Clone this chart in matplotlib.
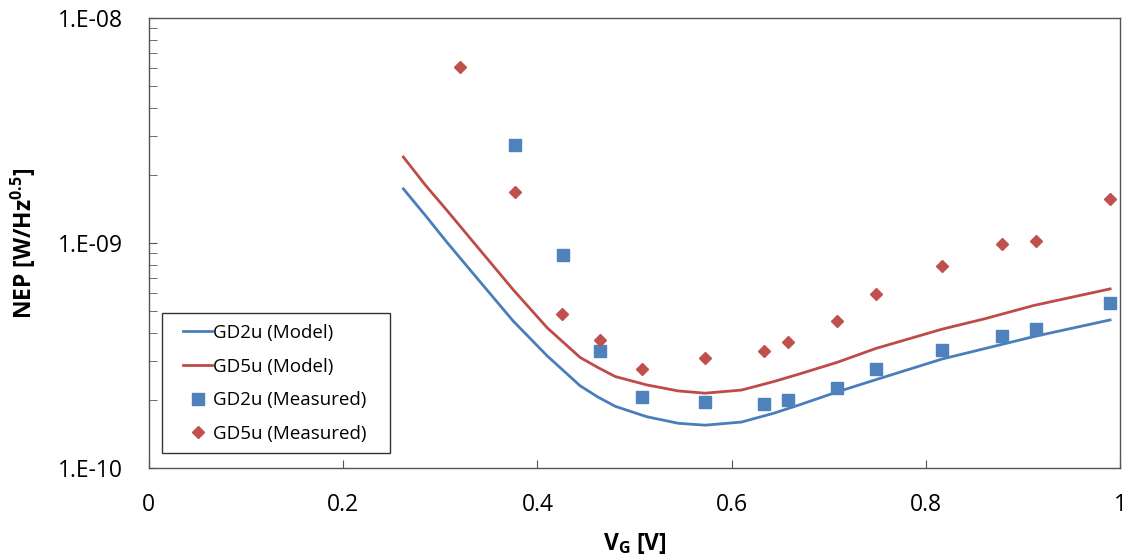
import math

import matplotlib
matplotlib.use("Agg")
import matplotlib.pyplot as plt
from matplotlib.patches import Rectangle
from matplotlib.ticker import FixedLocator, LogLocator, FuncFormatter, NullFormatter

plt.rcParams["font.family"] = ["Open Sans", "DejaVu Sans"]
plt.rcParams["mathtext.fontset"] = "custom"
plt.rcParams["mathtext.rm"] = "Open Sans"
plt.rcParams["mathtext.bf"] = "Open Sans:bold"

# model curves
vg_model = [0.262, 0.285, 0.3066, 0.34, 0.375, 0.41, 0.4439, 0.462, 0.48,
            0.5125, 0.545, 0.5725, 0.61, 0.643, 0.670, 0.7087, 0.7485, 0.8165,
            0.86, 0.9112, 0.9894]
gd2_model = [1.74e-9, 1.32e-9, 1.01e-9, 6.8e-10, 4.5e-10, 3.15e-10, 2.32e-10,
             2.07e-10, 1.88e-10, 1.69e-10, 1.58e-10, 1.55e-10, 1.60e-10,
             1.75e-10, 1.91e-10, 2.18e-10, 2.47e-10, 3.05e-10, 3.39e-10,
             3.84e-10, 4.55e-10]
gd5_model = [2.41e-9, 1.80e-9, 1.40e-9, 9.4e-10, 6.2e-10, 4.2e-10, 3.10e-10,
             2.80e-10, 2.55e-10, 2.34e-10, 2.20e-10, 2.15e-10, 2.22e-10,
             2.42e-10, 2.62e-10, 2.95e-10, 3.40e-10, 4.14e-10, 4.60e-10,
             5.28e-10, 6.25e-10]

# measured points
vg_gd2 = [0.377, 0.426, 0.4645, 0.5077, 0.5725, 0.6336, 0.6583, 0.7087,
          0.7489, 0.8168, 0.8779, 0.9132, 0.9894]
gd2_meas = [2.73e-9, 8.85e-10, 3.32e-10, 2.07e-10, 1.97e-10, 1.92e-10, 2.00e-10,
            2.26e-10, 2.75e-10, 3.34e-10, 3.86e-10, 4.16e-10, 5.43e-10]
vg_gd5 = [0.320, 0.3766, 0.425, 0.4645, 0.5077, 0.5725, 0.6336, 0.6583,
          0.7087, 0.7489, 0.8168, 0.8779, 0.9132, 0.9894]
gd5_meas = [6.04e-9, 1.69e-9, 4.83e-10, 3.71e-10, 2.75e-10, 3.09e-10, 3.32e-10,
            3.64e-10, 4.50e-10, 5.91e-10, 7.91e-10, 9.93e-10, 1.02e-9, 1.57e-9]

x_ticks = [0, 0.2, 0.4, 0.6, 0.8, 1.0]
x_tick_labels = ["0", "0.2", "0.4", "0.6", "0.8", "1"]

BLUE = "#4A7EBB"
RED = "#BE4B48"


def excel_exp(v, pos):
    return "1.E-%02d" % int(round(-math.log10(v)))


fig = plt.figure(figsize=(11.31, 5.6), dpi=100)
ax = fig.add_axes([0.1316, 0.1643, 0.8590, 0.8036])

ax.plot(vg_model, gd2_model, color=BLUE, linewidth=2.0, label="GD2u (Model)")
ax.plot(vg_model, gd5_model, color=RED, linewidth=2.0, label="GD5u (Model)")
ax.plot(vg_gd2, gd2_meas, linestyle="none", marker="s", markersize=8,
        color="#4F81BD", label="GD2u (Measured)")
ax.plot(vg_gd5, gd5_meas, linestyle="none", marker="D", markersize=6,
        color="#C0504D", label="GD5u (Measured)")

ax.set_yscale("log")
ax.set_xlim(0, 1)
ax.set_ylim(1e-10, 1e-8)
ax.xaxis.set_major_locator(FixedLocator(x_ticks))
ax.set_xticklabels(x_tick_labels)
ax.yaxis.set_major_locator(FixedLocator([1e-10, 1e-9, 1e-8]))
ax.yaxis.set_minor_locator(LogLocator(base=10, subs=range(2, 10), numticks=20))
ax.yaxis.set_minor_formatter(NullFormatter())
ax.yaxis.set_major_formatter(FuncFormatter(excel_exp))

ax.tick_params(axis="both", which="major", direction="in", length=6,
               labelsize=16.5, color="#555555")
ax.tick_params(axis="x", which="major", pad=18)
ax.tick_params(axis="y", which="major", pad=19)
ax.tick_params(axis="y", which="minor", direction="in", length=6, color="#555555")
for s in ax.spines.values():
    s.set_color("#555555")
    s.set_linewidth(1.0)

ax.set_xlabel(r"$\mathbf{V_G}$ [V]", fontsize=16.5, fontweight="bold", labelpad=10)
ax.set_ylabel(r"NEP [W/Hz$^{\mathbf{0.5}}$]", fontsize=16.5, fontweight="bold", labelpad=14)

# legend box drawn separately so its padding can match the reference
ax.add_patch(Rectangle((0.0136, 0.0333), 0.2347, 0.3111, transform=ax.transAxes,
                       facecolor="white", edgecolor="#333333", linewidth=1.0,
                       zorder=4.5, clip_on=False))
leg = ax.legend(loc="upper left", bbox_to_anchor=(0.0352, 0.32), borderaxespad=0,
                borderpad=0, frameon=False, fontsize=13.5,
                handlelength=1.55, handletextpad=0.05, labelspacing=0.83)
leg.set_zorder(5)

fig.savefig("out.png", dpi=100)
